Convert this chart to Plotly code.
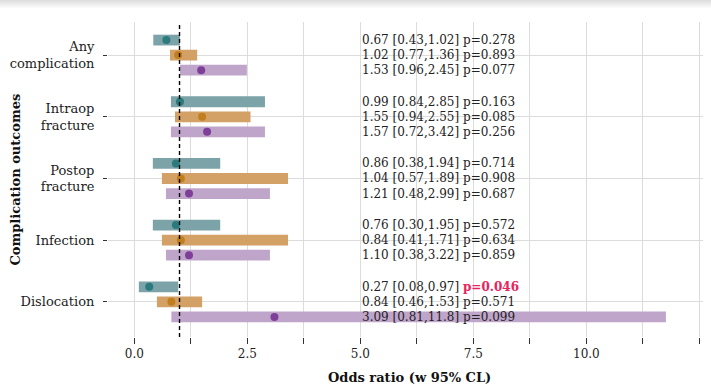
import plotly.graph_objects as go

outcomes = ["Any<br>complication", "Intraop<br>fracture", "Postop<br>fracture", "Infection", "Dislocation"]

teal_or = [0.71, 1.01, 0.92, 0.92, 0.33]
teal_lo = [0.42, 0.81, 0.41, 0.41, 0.10]
teal_hi = [1.01, 2.89, 1.90, 1.90, 0.97]
orange_or = [0.97, 1.50, 1.03, 1.03, 0.82]
orange_lo = [0.79, 0.90, 0.61, 0.61, 0.50]
orange_hi = [1.39, 2.57, 3.40, 3.40, 1.50]
purple_or = [1.48, 1.61, 1.21, 1.21, 3.10]
purple_lo = [1.01, 0.81, 0.70, 0.70, 0.82]
purple_hi = [2.49, 2.89, 3.00, 3.00, 11.76]

teal_lab = ["0.67 [0.43,1.02] p=0.278", "0.99 [0.84,2.85] p=0.163", "0.86 [0.38,1.94] p=0.714",
            "0.76 [0.30,1.95] p=0.572", "0.27 [0.08,0.97] <b><span style='color:#E8245B'>p=0.046</span></b>"]
orange_lab = ["1.02 [0.77,1.36] p=0.893", "1.55 [0.94,2.55] p=0.085", "1.04 [0.57,1.89] p=0.908",
              "0.84 [0.41,1.71] p=0.634", "0.84 [0.46,1.53] p=0.571"]
purple_lab = ["1.53 [0.96,2.45] p=0.077", "1.57 [0.72,3.42] p=0.256", "1.21 [0.48,2.99] p=0.687",
              "1.10 [0.38,3.22] p=0.859", "3.09 [0.81,11.8] p=0.099"]

x_ticks = [0, 1.25, 2.5, 3.75, 5.0, 6.25, 7.5, 8.75, 10.0, 11.25, 12.5]
x_ticktext = ["0.0", "", "2.5", "", "5.0", "", "7.5", "", "10.0", "", "12.5"]

FONT = "DejaVu Serif"
OFF = 0.244
series = [
    ("Series 1", teal_or, teal_lo, teal_hi, teal_lab, -OFF, "#7BA3A8", "#2B7A7E"),
    ("Series 2", orange_or, orange_lo, orange_hi, orange_lab, 0.0, "#D3A066", "#C17E1E"),
    ("Series 3", purple_or, purple_lo, purple_hi, purple_lab, OFF, "#C0A5CB", "#7D3F98"),
]

fig = go.Figure()
cats = list(range(len(outcomes)))
annotations = []
for name, orv, lo, hi, lab, off, bc, pc in series:
    ys = [c + off for c in cats]
    fig.add_trace(go.Bar(
        y=ys, x=[h - l for h, l in zip(hi, lo)], base=lo, orientation="h",
        width=0.175, marker=dict(color=bc, line=dict(width=0)), name=name,
        showlegend=False, hoverinfo="skip"))
    fig.add_trace(go.Scatter(
        y=ys, x=orv, mode="markers", marker=dict(color=pc, size=8),
        showlegend=False, name=name))
    for y, t in zip(ys, lab):
        annotations.append(dict(x=5.0, y=y, xref="x", yref="y", text=t, showarrow=False,
                                xanchor="left", yanchor="middle",
                                font=dict(family=FONT, size=12, color="#222")))

annotations.append(dict(x=-(108 - 15) / 595, y=0.5, xref="paper", yref="paper",
                        text="<b>Complication outcomes</b>", textangle=-90, showarrow=False,
                        font=dict(family=FONT, size=13, color="#111"),
                        xanchor="center", yanchor="middle"))
annotations.append(dict(x=(409.5 - 108) / 595, y=-(377 - 337) / 315, xref="paper", yref="paper",
                        text="<b>Odds ratio (w 95% CL)</b>", showarrow=False,
                        font=dict(family=FONT, size=13, color="#111"),
                        xanchor="center", yanchor="middle"))

# top shadow band (page pixels 0-8), built from thin background-only annotations
for i in range(8):
    g = 222 + i * 4
    annotations.append(dict(x=-108 / 595, y=1 + (22 - i) / 315, xref="paper", yref="paper",
                            xanchor="left", yanchor="top", text=" ", showarrow=False,
                            width=711, height=1, borderpad=0, borderwidth=0,
                            font=dict(size=1, color=f"rgb({g},{g},{g})"),
                            bgcolor=f"rgb({g},{g},{g})"))

shapes = [dict(type="line", x0=1, x1=1, y0=0, y1=1, xref="x", yref="paper",
               line=dict(color="black", width=1.4, dash="4px,3px"))]

fig.update_layout(
    width=711, height=387,
    margin=dict(l=108, r=8, t=22, b=50),
    paper_bgcolor="white", plot_bgcolor="white",
    barmode="overlay",
    annotations=annotations, shapes=shapes,
    font=dict(family=FONT, color="#222"),
    xaxis=dict(range=[-0.582, 12.58], tickvals=x_ticks, ticktext=x_ticktext,
               showgrid=True, gridcolor="#DCDCDC", gridwidth=1.3, zeroline=False,
               ticks="outside", ticklen=6, tickwidth=1.2, tickcolor="#333",
               tickfont=dict(family=FONT, size=12, color="#222"), showline=False),
    yaxis=dict(range=[4.57, -0.537], tickvals=cats, ticktext=outcomes,
               showgrid=True, gridcolor="#DCDCDC", gridwidth=1.3, zeroline=False,
               ticks="outside", ticklen=4, tickwidth=1.2, tickcolor="#333",
               ticklabelstandoff=6,
               tickfont=dict(family=FONT, size=13, color="#222"), showline=False),
)

fig.write_html("out.html", config={"displayModeBar": False},
               post_script="document.body.style.margin='0';document.body.style.overflow='hidden';")
